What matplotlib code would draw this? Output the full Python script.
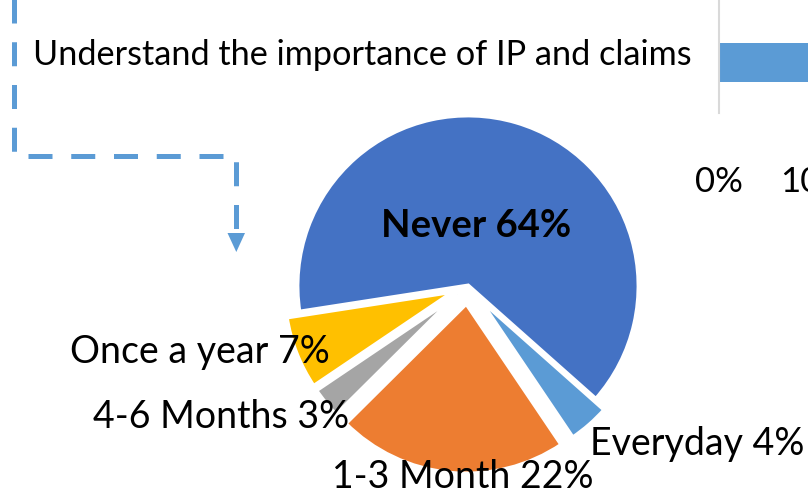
import numpy as np
import matplotlib
matplotlib.use("Agg")
import matplotlib.pyplot as plt
from matplotlib.patches import Polygon
from matplotlib.ticker import PercentFormatter

plt.rcParams['font.family'] = ['Lato', 'DejaVu Sans']
plt.rcParams['lines.scale_dashes'] = False

# 饼图数据（按逆时针顺序）
labels = ['Everyday', 'Never', 'Once a year', '4-6 Months', '1-3 Month']
values = [4, 64, 7, 3, 22]
colors = ['#5B9BD5', '#4472C4', '#FFC000', '#A5A5A5', '#ED7D31']
explode = [0.08, 0, 0.08, 0.08, 0.1]  # 相对半径

# 右上角被裁掉的条形图
bar_cats = ['Understand the importance of IP and claims']
bar_vals = [0.45]
bar_ticks = [0, 0.1, 0.2, 0.3, 0.4, 0.5]

W, H = 808, 494
R = 171
fig = plt.figure(figsize=(W / 100, H / 100), dpi=100)
ax = fig.add_axes([0, 0, 1, 1])

# matplotlib 的 explode 是数据单位，要乘以半径
wedges, _ = ax.pie(values, colors=colors, explode=[e * R for e in explode],
                   startangle=-56, counterclock=True, center=(468, H - 286),
                   radius=R, wedgeprops=dict(edgecolor='white', linewidth=3.5))
ax.set_xlim(0, W)
ax.set_ylim(0, H)
ax.set_aspect('equal')
ax.axis('off')

# 标签
lab_fs = 27
ax.text(476, H - 237, f'{labels[1]} {values[1]}%', ha='center', va='baseline',
        fontsize=27.5, fontweight='bold')
ax.text(70, H - 363, f'{labels[2]} {values[2]}%', ha='left', va='baseline', fontsize=lab_fs)
ax.text(93, H - 428, f'{labels[3]} {values[3]}%', ha='left', va='baseline', fontsize=lab_fs)
ax.text(332, H - 488, f'{labels[4]} {values[4]}%', ha='left', va='baseline', fontsize=lab_fs)
ax.text(590, H - 455, f'{labels[0]} {values[0]}%', ha='left', va='baseline', fontsize=lab_fs)

# 条形图的类别文字
ax.text(33, H - 65, bar_cats[0], ha='left', va='baseline', fontsize=24.7)

# 虚线箭头
px = [13.5, 13.5, 236, 236]
py = [-28.75, 156, 156, 234]
ax.plot(px, [H - y for y in py], color='#5B9BD5', lw=3.6,
        linestyle=(0, (24 * 0.72, 18.75 * 0.72)),
        dash_capstyle='butt', dash_joinstyle='miter')
ax.add_patch(Polygon([(227.5, H - 233), (245, H - 233), (236.3, H - 252)],
                     closed=True, color='#5B9BD5', lw=0))

# 条形图
bx = fig.add_axes([719 / W, 1 - 113 / H, 955 / W, 113 / H])
bx.barh([0], bar_vals, height=1, color='#5B9BD5')
bx.set_xlim(0, 1)
bx.set_ylim(-50.5 / 39, 62.5 / 39)
bx.set_yticks([])
bx.set_xticks(bar_ticks)
bx.xaxis.set_major_formatter(PercentFormatter(1, decimals=0))
bx.tick_params(axis='x', length=0, labelsize=25, pad=38)
for s in ['top', 'right', 'bottom']:
    bx.spines[s].set_visible(False)
bx.spines['left'].set_color('#D9D9D9')
bx.spines['left'].set_linewidth(1.5)
bx.patch.set_alpha(0)

fig.savefig('out.png', dpi=100)
